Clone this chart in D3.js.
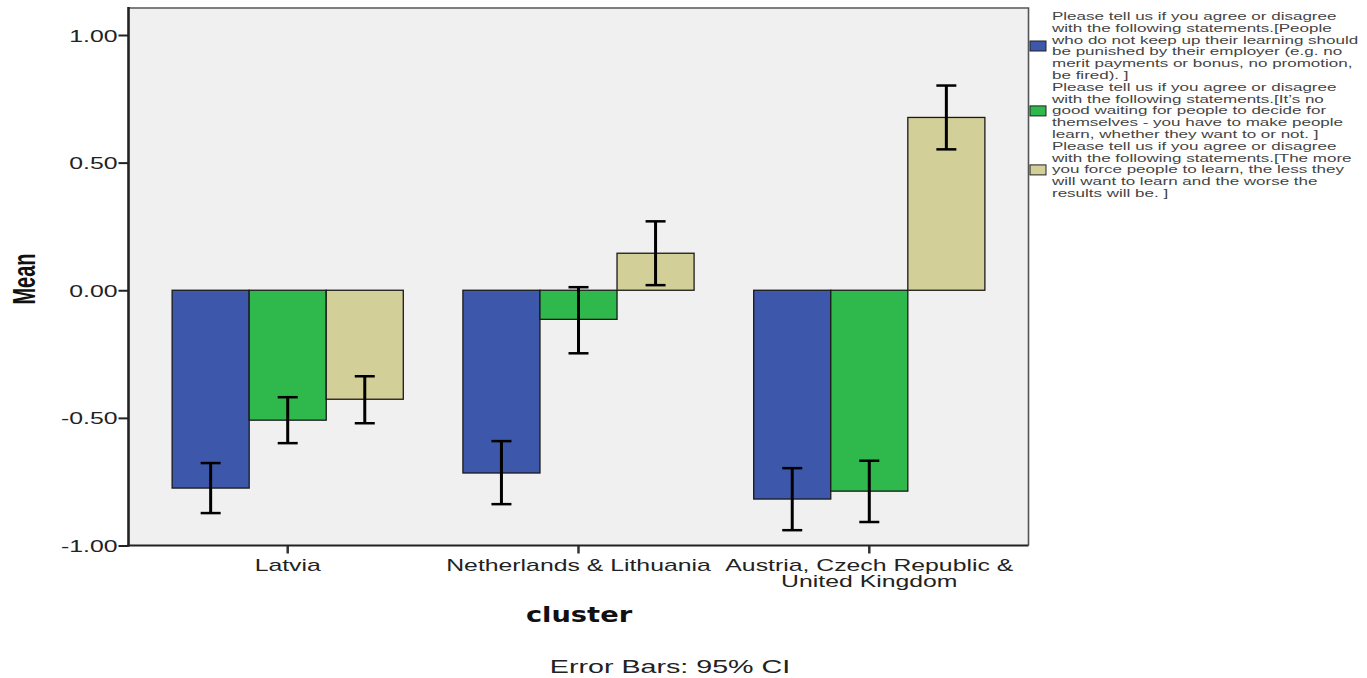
<!DOCTYPE html>
<html>
<head>
<meta charset="utf-8">
<script src="https://cdn.jsdelivr.net/npm/d3@7"></script>
<style>
  body { margin: 0; background: #ffffff; }
  svg { display: block; }
</style>
</head>
<body>
<svg id="chart" width="1367" height="678"></svg>
<script>
// ---- data ----------------------------------------------------------------
const clusters = ["Latvia", "Netherlands & Lithuania", "Austria, Czech Republic & United Kingdom"];
const clusterLabelLines = [["Latvia"], ["Netherlands & Lithuania"], ["Austria, Czech Republic &", "United Kingdom"]];

const seriesKeys = ["punished", "noWaiting", "forceLess"];
const seriesColors = ["#3d57aa", "#2fb84b", "#d3cf98"];

// mean agreement per cluster, with 95% CI bounds
const punishedMean = [-0.775, -0.716, -0.818];
const punishedLow  = [-0.873, -0.838, -0.940];
const punishedHigh = [-0.677, -0.591, -0.697];

const noWaitingMean = [-0.509, -0.114, -0.787];
const noWaitingLow  = [-0.599, -0.247, -0.908];
const noWaitingHigh = [-0.419,  0.012, -0.668];

const forceLessMean = [-0.427, 0.145, 0.677];
const forceLessLow  = [-0.521, 0.020, 0.552];
const forceLessHigh = [-0.337, 0.270, 0.802];

const yTicks = [-1, -0.5, 0, 0.5, 1];

const legendLines = [
  ["Please tell us if you agree or disagree",
   "with the following statements.[People",
   "who do not keep up their learning should",
   "be punished by their employer (e.g. no",
   "merit payments or bonus, no promotion,",
   "be fired). ]"],
  ["Please tell us if you agree or disagree",
   "with the following statements.[It\u2019s no",
   "good waiting for people to decide for",
   "themselves - you have to make people",
   "learn, whether they want to or not.  ]"],
  ["Please tell us if you agree or disagree",
   "with the following statements.[The more",
   "you force people to learn, the less they",
   "will want to learn and the worse the",
   "results will be. ]"]
];

// ---- layout ----------------------------------------------------------------
const plot = { left: 128.5, right: 1028.5, top: 8, bottom: 545.5 };
const textStretch = 1.55;          // wide horizontal rendering of labels
const legendStretch = 1.62;
const font = "'Liberation Sans', Arial, sans-serif";

const svg = d3.select("#chart");

const means = [punishedMean, noWaitingMean, forceLessMean];
const lows  = [punishedLow, noWaitingLow, forceLessLow];
const highs = [punishedHigh, noWaitingHigh, forceLessHigh];

const rows = [];
clusters.forEach((c, ci) => {
  seriesKeys.forEach((k, si) => {
    rows.push({ cluster: c, key: k, color: seriesColors[si],
                mean: means[si][ci], low: lows[si][ci], high: highs[si][ci] });
  });
});

const x0 = d3.scaleBand().domain(clusters)
  .range([plot.left, plot.right]).paddingInner(0.205).paddingOuter(0.15);
const x1 = d3.scaleBand().domain(seriesKeys).range([0, x0.bandwidth()]);
const y = d3.scaleLinear().domain([-1, 1]).range([545.5, 35]);

// plot background
svg.append("rect")
  .attr("x", plot.left).attr("y", plot.top)
  .attr("width", plot.right - plot.left).attr("height", plot.bottom - plot.top)
  .attr("fill", "#f0f0f0");

// bars
svg.append("g").selectAll("rect").data(rows).join("rect")
  .attr("x", d => x0(d.cluster) + x1(d.key))
  .attr("width", x1.bandwidth())
  .attr("y", d => y(Math.max(0, d.mean)))
  .attr("height", d => Math.abs(y(d.mean) - y(0)))
  .attr("fill", d => d.color)
  .attr("stroke", "#1a1a1a")
  .attr("stroke-width", 1.3);

// error bars (95% CI)
const eb = svg.append("g").selectAll("g").data(rows).join("g")
  .attr("transform", d => `translate(${x0(d.cluster) + x1(d.key) + x1.bandwidth() / 2},0)`);
eb.append("line")
  .attr("y1", d => y(d.low)).attr("y2", d => y(d.high))
  .attr("stroke", "#000").attr("stroke-width", 3);
eb.selectAll("line.cap").data(d => [d.low, d.high]).join("line")
  .attr("class", "cap")
  .attr("x1", -10).attr("x2", 10)
  .attr("y1", v => y(v)).attr("y2", v => y(v))
  .attr("stroke", "#000").attr("stroke-width", 2.5);

// frame: top and right edges
svg.append("path")
  .attr("d", `M${plot.left},${plot.top}H${plot.right}V${plot.bottom}`)
  .attr("fill", "none").attr("stroke", "#555").attr("stroke-width", 1.6);

// y axis
const yAxis = svg.append("g")
  .attr("transform", `translate(${plot.left},0)`)
  .call(d3.axisLeft(y).tickValues(yTicks).tickSize(10).tickSizeOuter(0)
    .tickFormat(d => d.toFixed(2)));
yAxis.select(".domain").remove();
yAxis.append("line")
  .attr("y1", plot.top - 1).attr("y2", plot.bottom + 1)
  .attr("stroke", "#222").attr("stroke-width", 2.6);
yAxis.selectAll(".tick line").attr("stroke", "#222").attr("stroke-width", 2);
yAxis.selectAll(".tick text")
  .attr("x", 0).attr("dy", null)
  .attr("transform", `translate(-11,6) scale(${textStretch},1)`)
  .attr("font-family", font).attr("font-size", 16).attr("fill", "#222");

// x axis
const xAxis = svg.append("g")
  .attr("transform", `translate(0,${plot.bottom})`)
  .call(d3.axisBottom(x0).tickSize(8).tickSizeOuter(0).tickFormat(""));
xAxis.select(".domain").remove();
xAxis.append("line")
  .attr("x1", plot.left - 1).attr("x2", plot.right)
  .attr("stroke", "#222").attr("stroke-width", 2);
xAxis.selectAll(".tick line").attr("stroke", "#333").attr("stroke-width", 2.5);
xAxis.selectAll(".tick").each(function (c, i) {
  const t = d3.select(this).append("text")
    .attr("transform", `translate(0,25) scale(${textStretch},1)`)
    .attr("text-anchor", "middle")
    .attr("font-family", font).attr("font-size", 16).attr("fill", "#222");
  clusterLabelLines[i].forEach((line, li) => {
    t.append("tspan").attr("x", 0).attr("y", li * 16.5).text(line);
  });
});

// axis titles
svg.append("text")
  .attr("transform", `translate(35,279) scale(${textStretch},1) rotate(-90)`)
  .attr("text-anchor", "middle")
  .attr("font-family", font).attr("font-weight", "bold").attr("font-size", 20)
  .attr("fill", "#111").text("Mean");

svg.append("text")
  .attr("transform", `translate(579,622) scale(1.3,1)`)
  .attr("text-anchor", "middle")
  .attr("font-family", "'DejaVu Sans', sans-serif").attr("font-weight", "bold")
  .attr("font-size", 21).attr("fill", "#111").text("cluster");

svg.append("text")
  .attr("transform", `translate(670,673) scale(${textStretch},1)`)
  .attr("text-anchor", "middle")
  .attr("font-family", font).attr("font-size", 18.5).attr("fill", "#222")
  .text("Error Bars: 95% CI");

// legend
const legendX = 1030, textX = 1052, lineH = 11.8, firstBase = 20;
let lineIndex = 0;
const legend = svg.append("g");
legendLines.forEach((lines, si) => {
  const startBase = firstBase + lineIndex * lineH;
  const g = legend.append("g");
  lines.forEach((line, li) => {
    g.append("text")
      .attr("transform", `translate(${textX},${startBase + li * lineH}) scale(${legendStretch},1)`)
      .attr("font-family", font).attr("font-size", 10.5).attr("fill", "#444")
      .text(line);
  });
  const mid = startBase + (lines.length - 1) * lineH / 2 - 3.5;
  g.append("rect")
    .attr("x", legendX).attr("y", mid - 5)
    .attr("width", 16).attr("height", 10)
    .attr("fill", seriesColors[si]).attr("stroke", "#222").attr("stroke-width", 1);
  lineIndex += lines.length;
});
</script>
</body>
</html>
